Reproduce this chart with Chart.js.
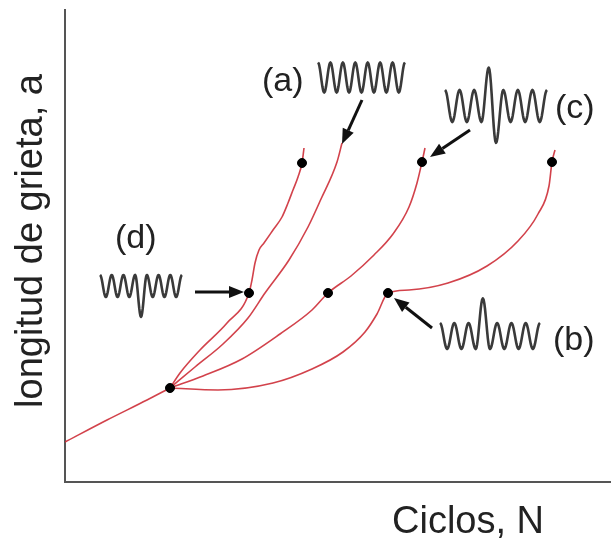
<!DOCTYPE html>
<html>
<head>
<meta charset="utf-8">
<script src="https://cdn.jsdelivr.net/npm/chart.js@4.4.1/dist/chart.umd.min.js"></script>
<style>
  body { margin: 0; background: #fff; }
  #wrap { width: 611px; height: 540px; }
</style>
</head>
<body>
<div id="wrap"><canvas id="grafica" width="611" height="540"></canvas></div>
<script>
// curvas: [N, a]
const curvaBase = [[0, 40], [42, 62], [82, 82], [105, 94]];
const curvaD = [[105, 94], [115, 109], [135, 132], [162, 159], [184, 189], [187, 202], [190, 219], [194, 232], [199, 239], [208, 252], [217, 265], [223, 279], [228, 292], [233, 305], [237, 319], [239, 334]];
const curvaA = [[105, 94], [130, 115], [158, 138], [183, 164], [200, 189], [224, 222], [243, 255], [256, 283], [272, 320], [277, 339]];
const curvaC = [[105, 94], [138, 106], [177, 123], [215, 148], [247, 172], [263, 189], [286, 206], [309, 227], [328, 248], [344, 275], [352, 299], [357, 320], [360, 334]];
const curvaB = [[105, 94], [153, 92], [208, 99], [247, 113], [278, 130], [300, 150], [312, 168], [323, 189], [344, 192], [383, 199], [422, 216], [453, 241], [473, 268], [484, 296], [487, 320], [490, 332]];
const puntos = [[105, 94], [184, 189], [263, 189], [323, 189], [237, 319], [357, 320], [487, 320]];

// ondas de carga: extremos de cada medio ciclo (1 = amplitud normal)
const ondaA = [1, -1, 1, -1, 1, -1, 1, -1, 1, -1, 1, -1, 1, -1, 1];
const ondaB = [1, -1, 1, -1, 1, -1, 2.9, -1, 1, -1, 1, -1, 1, -1, 1];
const ondaC = [1, -1, 1, -1, 1, -1, 2.4, -2.3, 1, -1, 1, -1, 1, -1, 1];
const ondaD = [1, -1, 1, -1, 1, -1, 1, -2.8, 1, -1, 1, -1, 1, -1, 1];

const aPuntos = arr => arr.map(p => ({ x: p[0], y: p[1] }));

const rojo = "rgba(205, 45, 55, 0.9)";

function linea(data) {
  return {
    type: "line",
    data: aPuntos(data),
    borderColor: rojo,
    borderWidth: 1.6,
    pointRadius: 0,
    cubicInterpolationMode: "monotone",
    fill: false,
    order: 1
  };
}

function dibujarOnda(ctx, x0, x1, cy, amp, ext) {
  const n = ext.length - 1;
  const w = (x1 - x0) / n;
  ctx.beginPath();
  ctx.moveTo(x0, cy - amp * ext[0]);
  for (let i = 0; i < n; i++) {
    const e0 = ext[i], e1 = ext[i + 1];
    for (let k = 1; k <= 10; k++) {
      const t = k / 10;
      const v = (e0 + e1) / 2 + (e0 - e1) / 2 * Math.cos(Math.PI * t);
      ctx.lineTo(x0 + (i + t) * w, cy - amp * v);
    }
  }
  ctx.stroke();
}

function dibujarFlecha(ctx, x0, y0, x1, y1) {
  const ang = Math.atan2(y1 - y0, x1 - x0);
  const largo = 15, ancho = 6;
  const bx = x1 - largo * Math.cos(ang), by = y1 - largo * Math.sin(ang);
  ctx.beginPath();
  ctx.moveTo(x0, y0);
  ctx.lineTo(bx, by);
  ctx.stroke();
  ctx.beginPath();
  ctx.moveTo(x1, y1);
  ctx.lineTo(bx + ancho * Math.sin(ang), by - ancho * Math.cos(ang));
  ctx.lineTo(bx - ancho * Math.sin(ang), by + ancho * Math.cos(ang));
  ctx.closePath();
  ctx.fill();
}

const anotaciones = {
  id: "anotaciones",
  afterDraw(chart) {
    const ctx = chart.ctx;
    ctx.save();
    ctx.strokeStyle = "#3a3a3a";
    ctx.lineWidth = 2.6;
    ctx.lineJoin = "round";
    dibujarOnda(ctx, 318, 405, 77.5, 15, ondaA);
    dibujarOnda(ctx, 440, 540, 336, 13, ondaB);
    dibujarOnda(ctx, 445, 547, 106, 16, ondaC);
    dibujarOnda(ctx, 100, 182, 286, 11, ondaD);

    ctx.strokeStyle = "#111";
    ctx.fillStyle = "#111";
    ctx.lineWidth = 3;
    ctx.lineCap = "butt";
    dibujarFlecha(ctx, 362, 100, 342, 144);
    dibujarFlecha(ctx, 470, 130, 430, 157);
    dibujarFlecha(ctx, 195, 292, 244, 292);
    dibujarFlecha(ctx, 432, 328, 394, 298);

    ctx.fillStyle = "#222";
    ctx.font = "34px 'Liberation Sans', Arial, sans-serif";
    ctx.textAlign = "left";
    ctx.textBaseline = "alphabetic";
    ctx.fillText("(a)", 262, 91);
    ctx.fillText("(c)", 555, 118);
    ctx.fillText("(b)", 553, 350);
    ctx.fillText("(d)", 115, 248);

    ctx.font = "38px 'Liberation Sans', Arial, sans-serif";
    ctx.fillText("Ciclos, N", 392, 533);
    ctx.translate(42, 241);
    ctx.rotate(-Math.PI / 2);
    ctx.textAlign = "center";
    ctx.fillText("longitud de grieta, a", 0, 0);
    ctx.restore();
  }
};

new Chart(document.getElementById("grafica"), {
  type: "scatter",
  data: {
    datasets: [
      {
        data: aPuntos(puntos),
        backgroundColor: "#000",
        borderColor: "#000",
        pointRadius: 4.5,
        clip: false,
        order: 0
      },
      linea(curvaBase),
      linea(curvaD),
      linea(curvaA),
      linea(curvaC),
      linea(curvaB)
    ]
  },
  options: {
    responsive: false,
    animation: false,
    layout: { autoPadding: false, padding: { left: 65, top: 10, right: 0, bottom: 58 } },
    plugins: {
      legend: { display: false },
      tooltip: { enabled: false }
    },
    scales: {
      x: {
        type: "linear",
        min: 0,
        max: 546,
        ticks: { display: false },
        grid: { display: false, drawTicks: false },
        border: { display: true, color: "#555", width: 2 }
      },
      y: {
        type: "linear",
        min: 0,
        max: 472,
        ticks: { display: false },
        grid: { display: false, drawTicks: false },
        border: { display: true, color: "#555", width: 2 }
      }
    }
  },
  plugins: [anotaciones]
});
</script>
</body>
</html>
